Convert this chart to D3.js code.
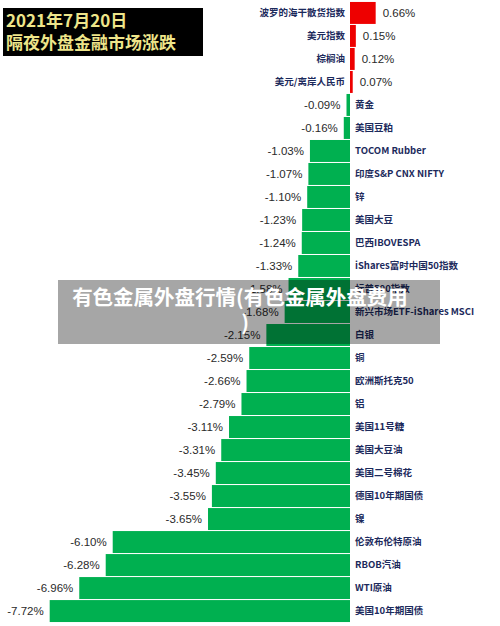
<!DOCTYPE html>
<html>
<head>
<meta charset="utf-8">
<script src="https://cdn.jsdelivr.net/npm/d3@7"></script>
<style>
html,body{margin:0;padding:0;background:#fff;}
svg{display:block;}
</style>
</head>
<body>
<svg id="chart" width="500" height="626"></svg>
<script>
const categories = ["波罗的海干散货指数","美元指数","棕榈油","美元/离岸人民币","黄金","美国豆粕","TOCOM Rubber","印度S&P CNX NIFTY","锌","美国大豆","巴西IBOVESPA","iShares富时中国50指数","标普500指数","新兴市场ETF-iShares MSCI","白银","铜","欧洲斯托克50","铝","美国11号糖","美国大豆油","美国二号棉花","德国10年期国债","镍","伦敦布伦特原油","RBOB汽油","WTI原油","美国10年期国债"];
const values = [0.66,0.15,0.12,0.07,-0.09,-0.16,-1.03,-1.07,-1.10,-1.23,-1.24,-1.33,-1.58,-1.68,-2.15,-2.59,-2.66,-2.79,-3.11,-3.31,-3.45,-3.55,-3.65,-6.10,-6.28,-6.96,-7.72];
const valueLabels = ["0.66%","0.15%","0.12%","0.07%","-0.09%","-0.16%","-1.03%","-1.07%","-1.10%","-1.23%","-1.24%","-1.33%","-1.58%","-1.68%","-2.15%","-2.59%","-2.66%","-2.79%","-3.11%","-3.31%","-3.45%","-3.55%","-3.65%","-6.10%","-6.28%","-6.96%","-7.72%"];
const titleLines = ["2021年7月20日","隔夜外盘金融市场涨跌"];
const overlayLines = ["有色金属外盘行情(有色金属外盘费用",")"];

const data = categories.map((c,i)=>({cat:c, v:values[i], label:valueLabels[i]}));
const svg = d3.select("#chart");

const x = d3.scaleLinear().domain([-8, 1]).range([38.8, 388.9]);
const y = d3.scaleBand().domain(categories).range([1.5, 622.5]).paddingInner(0.045).paddingOuter(0.02);

const g = svg.append("g");
g.selectAll("rect.bar").data(data).join("rect")
  .attr("class","bar")
  .attr("x", d => x(Math.min(0,d.v)))
  .attr("width", d => Math.abs(x(d.v)-x(0)))
  .attr("y", d => y(d.cat))
  .attr("height", y.bandwidth())
  .attr("fill", d => d.v >= 0 ? "#ee0000" : "#00b050");

// value labels
g.selectAll("text.val").data(data).join("text")
  .attr("class","val")
  .attr("x", d => d.v >= 0 ? x(d.v) + 7 : x(d.v) - 6)
  .attr("y", d => y(d.cat) + y.bandwidth()/2)
  .attr("dy","0.36em")
  .attr("text-anchor", d => d.v >= 0 ? "start" : "end")
  .attr("font-family","'Liberation Sans', Arial, sans-serif")
  .attr("font-size", 11.5)
  .attr("fill","#2a2a2a")
  .text(d => d.label);

// category labels
g.selectAll("text.cat").data(data).join("text")
  .attr("class","cat")
  .attr("x", d => d.v >= 0 ? x(0) - 5 : x(0) + 5)
  .attr("y", d => y(d.cat) + y.bandwidth()/2)
  .attr("dy","0.36em")
  .attr("text-anchor", d => d.v >= 0 ? "end" : "start")
  .attr("font-family","'Noto Sans CJK SC', sans-serif")
  .attr("font-weight","bold")
  .attr("font-size", 9.5)
  .attr("fill","#1c2a5c")
  .text(d => d.cat);

// title box
svg.append("rect").attr("x",3).attr("y",8).attr("width",200).attr("height",48).attr("fill","#000");
svg.append("g").selectAll("text").data(titleLines).join("text")
  .attr("x",6).attr("y",(d,i)=> i===0 ? 27 : 49)
  .attr("font-family","'Noto Sans CJK SC', sans-serif")
  .attr("font-weight","bold")
  .attr("font-size",17)
  .attr("fill","#eee58a")
  .text(d=>d);

// overlay
svg.append("rect").attr("x",58).attr("y",280).attr("width",382).attr("height",64).attr("fill","rgba(0,0,0,0.35)");
svg.append("g").selectAll("text").data(overlayLines).join("text")
  .attr("x",(d,i)=> i===0 ? 240 : 245).attr("y",(d,i)=> i===0 ? 305 : 330)
  .attr("text-anchor","middle")
  .attr("font-family","'Noto Sans CJK SC', sans-serif")
  .attr("font-weight","bold")
  .attr("font-size",20.5)
  .attr("fill","#ffffff")
  .text(d=>d);
</script>
</body>
</html>
